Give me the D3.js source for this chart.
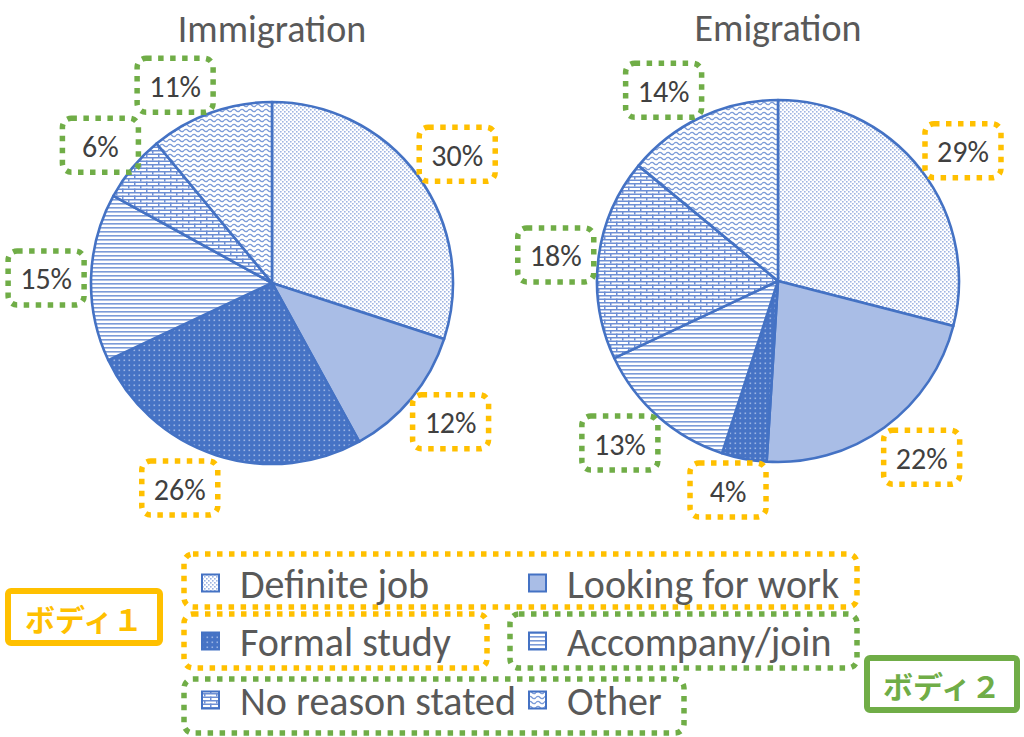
<!DOCTYPE html>
<html><head><meta charset="utf-8">
<script src="https://cdn.jsdelivr.net/npm/d3@7"></script>
<style>
html,body{margin:0;padding:0;background:#fff;}
svg{display:block;}
</style></head>
<body>
<svg id="chart" width="1024" height="737"></svg>
<script>
// ---- data ----
const categories = ["Definite job","Looking for work","Formal study","Accompany/join","No reason stated","Other"];
const immigration = [30,12,26,15,6,11];
const emigration  = [29,22,4,13,18,14];
const chartTitles = ["Immigration","Emigration"];
const categoryGroup = ["ボディ１","ボディ１","ボディ１","ボディ２","ボディ２","ボディ２"];
const groupNames = ["ボディ１","ボディ２"];

// ---- styles / layout ----
const BLUE = "#4472C4";
const groupColor = {"ボディ１":"#FFC000","ボディ２":"#70AD47"};
const patternIds = ["pDef","pLook","pStudy","pAcc","pNone","pOther"];
const FONT = "Carlito, Lato, 'Open Sans', sans-serif";
// label nudges (layout only)
const immLabelNudge = [[4,3],[6,-4],[-23,-8],[-2,2],[1,5],[-21,13]];
const emiLabelNudge = [[8,7],[12,-5],[-8,-11],[-10,-6],[0,2],[-19,12]];

const svg = d3.select("#chart");
const defs = svg.append("defs");

// Definite job: fine dots
let p = defs.append("pattern").attr("id","pDef").attr("patternUnits","userSpaceOnUse").attr("width",4).attr("height",4);
p.append("rect").attr("width",4).attr("height",4).attr("fill","#fff");
p.append("rect").attr("x",0).attr("y",0).attr("width",1.6).attr("height",1.6).attr("fill","#9fb5e2");
p.append("rect").attr("x",2).attr("y",2).attr("width",1.6).attr("height",1.6).attr("fill","#9fb5e2");
// Looking for work: light blue
p = defs.append("pattern").attr("id","pLook").attr("patternUnits","userSpaceOnUse").attr("width",4).attr("height",4);
p.append("rect").attr("width",4).attr("height",4).attr("fill","#a9bde6");
// Formal study: dark with light dots
p = defs.append("pattern").attr("id","pStudy").attr("patternUnits","userSpaceOnUse").attr("width",5).attr("height",5);
p.append("rect").attr("width",5).attr("height",5).attr("fill","#4673c5");
p.append("rect").attr("x",1.5).attr("y",1.5).attr("width",1.6).attr("height",1.6).attr("fill","#9bb4e4");
// Accompany/join: horizontal lines
p = defs.append("pattern").attr("id","pAcc").attr("patternUnits","userSpaceOnUse").attr("width",4).attr("height",4);
p.append("rect").attr("width",4).attr("height",4).attr("fill","#fff");
p.append("rect").attr("x",0).attr("y",0).attr("width",4).attr("height",1.6).attr("fill","#7b9bd8");
// No reason stated: bricks
p = defs.append("pattern").attr("id","pNone").attr("patternUnits","userSpaceOnUse").attr("width",12).attr("height",7);
p.append("rect").attr("width",12).attr("height",7).attr("fill","#fff");
p.append("rect").attr("x",0).attr("y",0).attr("width",12).attr("height",1.5).attr("fill","#6d8fd4");
p.append("rect").attr("x",0).attr("y",3.5).attr("width",12).attr("height",1.5).attr("fill","#6d8fd4");
p.append("rect").attr("x",0).attr("y",0).attr("width",1.5).attr("height",3.5).attr("fill","#6d8fd4");
p.append("rect").attr("x",6).attr("y",3.5).attr("width",1.5).attr("height",3.5).attr("fill","#6d8fd4");
// Other: waves
p = defs.append("pattern").attr("id","pOther").attr("patternUnits","userSpaceOnUse").attr("width",8).attr("height",5);
p.append("rect").attr("width",8).attr("height",5).attr("fill","#fff");
p.append("path").attr("d","M0 2.5 Q2 0.3 4 2.5 T8 2.5").attr("fill","none").attr("stroke","#7b9bd8").attr("stroke-width",1.3);

// ---- pies ----
const R = 181;
const pies = [
  {title: chartTitles[0], values: immigration, nudge: immLabelNudge, cx: 272, cy: 283, titleY: 42},
  {title: chartTitles[1], values: emigration,  nudge: emiLabelNudge, cx: 778, cy: 281, titleY: 41}
];
const pie = d3.pie().sort(null).value(d => d.v);
const arc = d3.arc().innerRadius(0).outerRadius(R);
const labelArc = d3.arc().innerRadius(224).outerRadius(224);

function dottedBox(g, x, y, w, h, color) {
  g.append("rect").attr("x",x).attr("y",y).attr("width",w).attr("height",h)
    .attr("rx",9).attr("ry",9)
    .attr("fill","none").attr("stroke",color).attr("stroke-width",5.5)
    .attr("stroke-dasharray","5.5 6.5");
}

pies.forEach(P => {
  const g = svg.append("g").attr("transform",`translate(${P.cx},${P.cy})`);
  const data = pie(P.values.map((v,i) => ({v, i})));
  g.selectAll("path.slice").data(data).join("path")
    .attr("class","slice")
    .attr("d", arc)
    .attr("fill", d => `url(#${patternIds[d.data.i]})`)
    .attr("stroke", BLUE).attr("stroke-width", 2.6).attr("stroke-linejoin","round");
  // labels
  data.forEach(d => {
    const c = labelArc.centroid(d);
    const lx = c[0] + P.nudge[d.data.i][0], ly = c[1] + P.nudge[d.data.i][1];
    const lg = g.append("g");
    dottedBox(lg, lx-38, ly-27, 76, 54, groupColor[categoryGroup[d.data.i]]);
    lg.append("text").attr("x",lx).attr("y",ly+1)
      .attr("text-anchor","middle").attr("dominant-baseline","central")
      .attr("font-family",FONT).attr("font-size",30).attr("fill","#404040")
      .text(d.data.v + "%");
  });
  svg.append("text").attr("x",P.cx).attr("y",P.titleY)
    .attr("text-anchor","middle").attr("font-family",FONT).attr("font-size",38)
    .attr("fill","#595959").text(P.title);
});

// ---- legend ----
const legendItems = [
  {i:0, x:202, y:583}, {i:1, x:529, y:583},
  {i:2, x:202, y:641}, {i:3, x:529, y:641},
  {i:4, x:202, y:700}, {i:5, x:529, y:700}
];
const legendBoxes = [
  {x:184, y:554, w:673, h:53, c:groupColor[groupNames[0]]},
  {x:184, y:614, w:303, h:54, c:groupColor[groupNames[0]]},
  {x:510, y:614, w:347, h:54, c:groupColor[groupNames[1]]},
  {x:184, y:679, w:500, h:54, c:groupColor[groupNames[1]]}
];
const lg = svg.append("g");
legendBoxes.forEach(b => dottedBox(lg, b.x, b.y, b.w, b.h, b.c));
legendItems.forEach(it => {
  lg.append("rect").attr("x",it.x).attr("y",it.y-8.5).attr("width",17).attr("height",17)
    .attr("fill",`url(#${patternIds[it.i]})`).attr("stroke",BLUE).attr("stroke-width",2);
  lg.append("text").attr("x",it.x+38).attr("y",it.y+1)
    .attr("dominant-baseline","central").attr("font-family",FONT).attr("font-size",40)
    .attr("fill","#595959").text(categories[it.i]);
});

// ---- body tags ----
const tags = [
  {name: groupNames[0], x:8, y:591, w:152, h:52},
  {name: groupNames[1], x:867, y:658, w:150, h:52}
];
tags.forEach(t => {
  svg.append("rect").attr("x",t.x).attr("y",t.y).attr("width",t.w).attr("height",t.h)
    .attr("rx",3).attr("fill","#fff").attr("stroke",groupColor[t.name]).attr("stroke-width",6);
  svg.append("text").attr("x",t.x+t.w/2).attr("y",t.y+t.h/2+1)
    .attr("text-anchor","middle").attr("dominant-baseline","central")
    .attr("font-family","'Noto Sans CJK JP', sans-serif").attr("font-size",30).attr("font-weight",700)
    .attr("fill",groupColor[t.name]).text(t.name);
});
</script>
</body></html>
